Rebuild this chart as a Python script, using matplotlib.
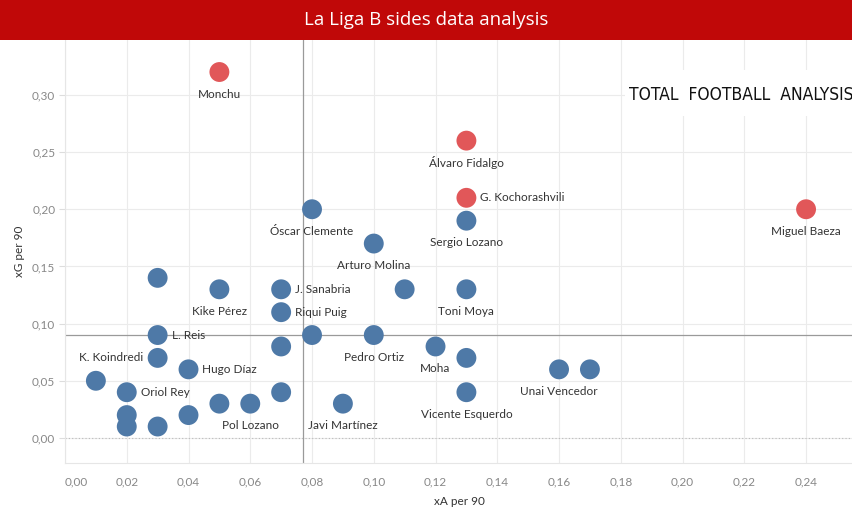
import matplotlib
matplotlib.use("Agg")
import matplotlib.pyplot as plt
from matplotlib.ticker import FuncFormatter
from matplotlib.patches import Rectangle

plt.rcParams['font.family'] = ['Lato', 'DejaVu Sans']

# ---- data ----
players = ["Monchu", "Álvaro Fidalgo", "G. Kochorashvili", "Miguel Baeza",
           "Sergio Lozano", "Óscar Clemente", "Arturo Molina", "",
           "Kike Pérez", "J. Sanabria", "", "Toni Moya",
           "Riqui Puig", "L. Reis", "", "Pedro Ortiz",
           "", "Moha", "K. Koindredi", "",
           "Hugo Díaz", "Unai Vencedor", "", "",
           "Oriol Rey", "", "Vicente Esquerdo", "",
           "Pol Lozano", "Javi Martínez", "", "",
           "", ""]
xa_per90 = [0.05, 0.13, 0.13, 0.24,
            0.13, 0.08, 0.10, 0.03,
            0.05, 0.07, 0.11, 0.13,
            0.07, 0.03, 0.08, 0.10,
            0.07, 0.12, 0.03, 0.13,
            0.04, 0.16, 0.17, 0.01,
            0.02, 0.07, 0.13, 0.05,
            0.06, 0.09, 0.02, 0.04,
            0.02, 0.03]
xg_per90 = [0.32, 0.26, 0.21, 0.20,
            0.19, 0.20, 0.17, 0.14,
            0.13, 0.13, 0.13, 0.13,
            0.11, 0.09, 0.09, 0.09,
            0.08, 0.08, 0.07, 0.07,
            0.06, 0.06, 0.06, 0.05,
            0.04, 0.04, 0.04, 0.03,
            0.03, 0.03, 0.02, 0.02,
            0.01, 0.01]
highlighted = ["Monchu", "Álvaro Fidalgo", "G. Kochorashvili", "Miguel Baeza"]
ref_xa = 0.0771
ref_xg = 0.090
x_ticks = [0.00, 0.02, 0.04, 0.06, 0.08, 0.10, 0.12, 0.14, 0.16, 0.18, 0.20, 0.22, 0.24]
y_ticks = [0.00, 0.05, 0.10, 0.15, 0.20, 0.25, 0.30]

# ---- label placement (style) ----
label_side = {"G. Kochorashvili": "right", "J. Sanabria": "right", "Riqui Puig": "right",
              "L. Reis": "right", "Hugo Díaz": "right", "Oriol Rey": "right",
              "K. Koindredi": "left"}

RED = "#E15759"
BLUE = "#4E79A7"
TXT = "#333333"
GRID = "#EBEBEB"

fig = plt.figure(figsize=(8.53, 5.19), dpi=100)
fig.patch.set_facecolor("white")

# title bar
fig.patches.append(Rectangle((0, 1 - 40 / 519), 1, 40 / 519, transform=fig.transFigure,
                             facecolor="#C00808", edgecolor="none", zorder=0))
fig.text(0.5, 1 - 20 / 519, "La Liga B sides data analysis", color="white",
         fontsize=13.5, ha="center", va="center", family=['Open Sans', 'DejaVu Sans'])

ax = fig.add_axes([65 / 853, 1 - 463 / 519, 1 - 65 / 853, (463 - 40) / 519])
ax.set_xlim(0, 0.2552)
ax.set_ylim(-0.0219, 0.348)

ax.set_xticks(x_ticks)
ax.set_yticks(y_ticks)
fmt = FuncFormatter(lambda v, p: f"{v:.2f}".replace(".", ","))
ax.xaxis.set_major_formatter(fmt)
ax.yaxis.set_major_formatter(fmt)

ax.grid(True, color=GRID, linewidth=0.8, zorder=0)
ax.set_axisbelow(True)
for s in ["top", "right"]:
    ax.spines[s].set_visible(False)
ax.spines["left"].set_color("#E6E6E6")
ax.spines["bottom"].set_color("#E6E6E6")
ax.tick_params(axis="both", colors="#DDDDDD", labelcolor="#888888", labelsize=8.5)
ax.tick_params(axis="x", length=0, pad=10)
ax.tick_params(axis="y", length=4, pad=3)
ax.get_xticklabels()[0].set_ha("left")

ax.axhline(0, color="#BBBBBB", linestyle=(0, (1, 2)), linewidth=0.8, zorder=1)
ax.axvline(ref_xa, color="#9A9A9A", linewidth=0.9, zorder=1)
ax.axhline(ref_xg, color="#9A9A9A", linewidth=0.9, zorder=1)

colors = [RED if n in highlighted else BLUE for n in players]
ax.scatter(xa_per90, xg_per90, s=205, c=colors, edgecolors="none", zorder=3)

for n, x, y in zip(players, xa_per90, xg_per90):
    if not n:
        continue
    side = label_side.get(n, "below")
    if side == "below":
        ax.annotate(n, (x, y), xytext=(0, -16), textcoords="offset points",
                    ha="center", va="center", fontsize=8.5, color=TXT, zorder=4)
    elif side == "right":
        ax.annotate(n, (x, y), xytext=(10, 0), textcoords="offset points",
                    ha="left", va="center", fontsize=8.5, color=TXT, zorder=4)
    else:
        ax.annotate(n, (x, y), xytext=(-10, 0), textcoords="offset points",
                    ha="right", va="center", fontsize=8.5, color=TXT, zorder=4)

ax.set_xlabel("xA per 90", fontsize=8.5, color=TXT, labelpad=6)
ax.set_ylabel("xG per 90", fontsize=8.5, color=TXT, labelpad=5)

# logo box
fig.patches.append(Rectangle((625 / 853, 1 - 116 / 519), 228 / 853, 46 / 519,
                             transform=fig.transFigure, facecolor="white",
                             edgecolor="none", zorder=5))
fig.text(741 / 853, 1 - 95 / 519, "TOTAL  FOOTBALL  ANALYSIS", color="#111111",
         fontsize=12.5, ha="center", va="center", zorder=6, fontstretch="condensed",
         family=['DejaVu Sans'])

fig.savefig("out.png", dpi=100)
